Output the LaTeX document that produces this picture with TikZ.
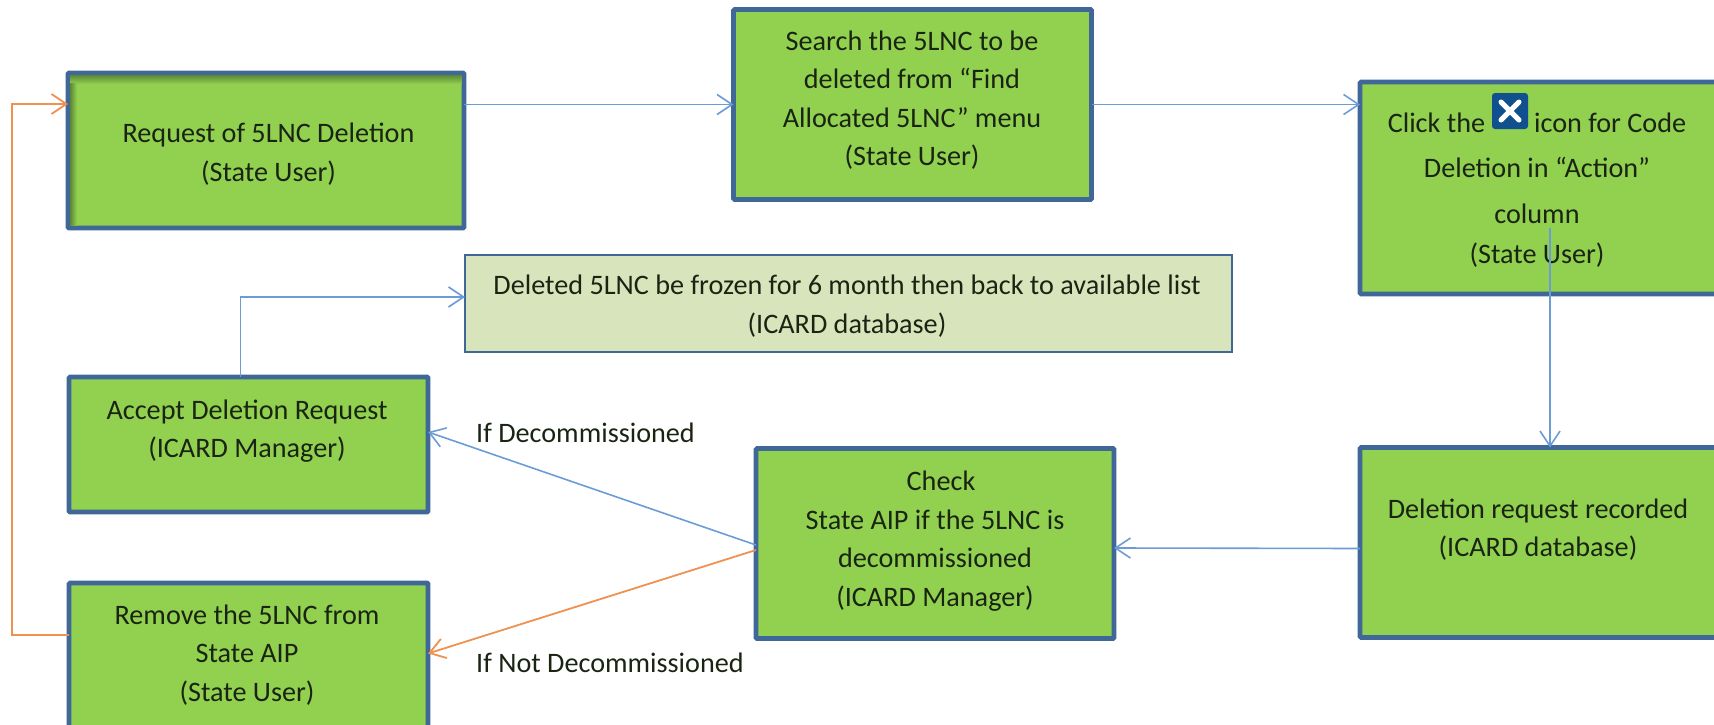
\documentclass[tikz,border=0pt]{standalone}
\usepackage{fontspec}
\setmainfont{Carlito}
\usetikzlibrary{arrows.meta,shapes.misc}
\definecolor{boxfill}{HTML}{92D050}
\definecolor{boxedge}{HTML}{3F6797}
\definecolor{paleFill}{HTML}{D8E4BC}
\definecolor{flowblue}{HTML}{6C9CD6}
\definecolor{floworange}{HTML}{EF9150}
\definecolor{ink}{HTML}{1A2412}
\definecolor{iconblue}{HTML}{10508F}
\definecolor{shadeDark}{HTML}{5E8A38}
\tikzset{
  x=1pt,y=-1pt,
  greenbox/.style={draw=boxedge,fill=boxfill,line width=4.6pt,rounded corners=1pt,outer sep=0pt,inner sep=0pt},
  palebox/.style={draw=boxedge,fill=paleFill,line width=1.2pt,outer sep=0pt,inner sep=0pt},
  boxtext/.style={text=ink,align=center,inner sep=0pt,font=\fontsize{28.2}{38.5}\selectfont},
  sidetext/.style={text=ink,anchor=west,inner sep=0pt,font=\fontsize{28.2}{32}\selectfont},
  flow/.style={draw=flowblue,line width=1.6pt,-{Straight Barb[length=15pt,width=20pt,line width=1.6pt]}},
  floworg/.style={draw=floworange,line width=1.8pt,-{Straight Barb[length=15pt,width=20pt,line width=1.8pt]}},
}
\begin{document}
\begin{tikzpicture}
\useasboundingbox (0,0) rectangle (1714,725);
\clip (0,0) rectangle (1714,725);
% boxes
\node[greenbox,minimum width=396pt,minimum height=155pt] (req) at (266,150.5) {};
\shade[top color=shadeDark,bottom color=boxfill] (70.3,75.3) rectangle (461.7,84);
\shade[left color=shadeDark,right color=boxfill] (70.3,84) rectangle (77,225.7);
\node[greenbox,minimum width=358pt,minimum height=190pt] (search) at (912.5,104.5) {};
\node[greenbox,minimum width=400pt,minimum height=212pt] (click) at (1560,188) {};
\node[palebox,minimum width=767pt,minimum height=97pt] (frozen) at (848.5,303.5) {};
\node[greenbox,minimum width=359pt,minimum height=135pt] (accept) at (248.5,444.5) {};
\node[greenbox,minimum width=359pt,minimum height=207pt] (remove) at (248.5,686.5) {};
\node[greenbox,minimum width=358pt,minimum height=190pt] (check) at (935,543.5) {};
\node[greenbox,minimum width=400pt,minimum height=190pt] (recorded) at (1560,542.5) {};
% texts
\node[boxtext] (reqT) at (268.5,154) {Request of 5LNC Deletion\\(State User)};
\node[boxtext] (searchT) at (912,100) {Search the 5LNC to be\\deleted from “Find\\Allocated 5LNC” menu\\(State User)};
\node[boxtext] (clickT) at (1537,190) {Click the\hspace{49pt}icon for Code\\[7pt]Deletion in “Action”\\[7pt]column\\[2pt](State User)};
\node[boxtext] (frozenT) at (847,306) {Deleted 5LNC be frozen for 6 month then back to available list\\(ICARD database)};
\node[boxtext] (acceptT) at (247,431) {Accept Deletion Request\\(ICARD Manager)};
\node[boxtext] (removeT) at (247,655) {Remove the 5LNC from\\State AIP\\(State User)};
\node[boxtext] (checkT) at (935,541) {\hspace{12pt}Check\\State AIP if the 5LNC is\\decommissioned\\(ICARD Manager)};
\node[boxtext] (recordedT) at (1538,529.5) {Deletion request recorded\\(ICARD database)};
\node[sidetext] (ifD) at (476,433) {If Decommissioned};
\node[sidetext] (ifN) at (476,663) {If Not Decommissioned};
% icon
\node[fill=iconblue,rounded corners=3pt,minimum size=36pt,inner sep=0pt,outer sep=0pt] (icon) at (1510,111) {};
\node[cross out,draw=white,line width=5pt,line cap=round,minimum size=13pt,inner sep=0pt] (iconX) at (icon.center) {};
% connectors
\draw[flow] ([yshift=46pt]req.east) -- (search.west);
\draw[flow] (search.east) -- ([yshift=83.5pt]click.west);
\draw[flow] ([xshift=-8pt]accept.north) |- ([yshift=6.5pt]frozen.west);
\draw[flow] ([xshift=-10pt,yshift=66pt]click.south) -- ([xshift=-10pt]recorded.north);
\draw[flow] ([yshift=-6pt]recorded.west) -- ([yshift=-4.5pt]check.east);
\draw[flow] ([yshift=-1.5pt]check.west) -- ([yshift=12.5pt]accept.east);
\draw[floworg] ([yshift=-6.5pt]check.west) -- ([yshift=33pt]remove.east);
\draw[floworg] ([yshift=51.5pt]remove.west) -- ++(-57,0) |- ([yshift=46.5pt]req.west);
\end{tikzpicture}
\end{document}
